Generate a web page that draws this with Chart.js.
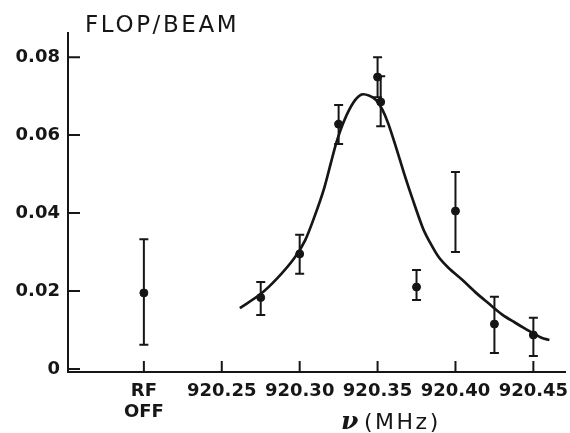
<!DOCTYPE html>
<html>
<head>
<meta charset="utf-8">
<script src="https://cdn.jsdelivr.net/npm/chart.js@4"></script>
<style>
html, body { margin: 0; padding: 0; background: #fff; }
</style>
</head>
<body>
<canvas id="stat" width="570" height="433"></canvas>
<script>
// measured points (RF OFF is placed at the 920.20 slot)
var freqs   = [920.20, 920.275, 920.30, 920.325, 920.35, 920.352, 920.375, 920.40, 920.425, 920.45];
var flop    = [0.0195, 0.0183, 0.0295, 0.0628, 0.0749, 0.0685, 0.0210, 0.0405, 0.0115, 0.0087];
var errLow  = [0.0062, 0.0138, 0.0244, 0.0577, 0.0697, 0.0623, 0.0177, 0.0300, 0.0041, 0.0033];
var errHigh = [0.0333, 0.0223, 0.0344, 0.0677, 0.0800, 0.0751, 0.0254, 0.0505, 0.0185, 0.0131];

// hand drawn curve through the resonance
var curveFreq = [920.2616, 920.2749, 920.2857, 920.2965, 920.3035, 920.3098, 920.3156, 920.3200, 920.3238,
                 920.3289, 920.3346, 920.3397, 920.3448, 920.3492, 920.3530, 920.3568, 920.3619, 920.3670,
                 920.3727, 920.3791, 920.3829, 920.3892, 920.3956, 920.4045, 920.4127, 920.4210, 920.4298,
                 920.4381, 920.4444, 920.4552, 920.4603];
var curveFlop = [0.0156, 0.0192, 0.0233, 0.0284, 0.0330, 0.0394, 0.0462, 0.0528, 0.0584,
                 0.0640, 0.0684, 0.0704, 0.0701, 0.0689, 0.0666, 0.0630, 0.0568, 0.0502,
                 0.0433, 0.0361, 0.0330, 0.0287, 0.0259, 0.0228, 0.0197, 0.0169, 0.0140,
                 0.0119, 0.0104, 0.0080, 0.0074];

var xTicks = [920.20, 920.25, 920.30, 920.35, 920.40, 920.45];
var xTickLabels = [['RF', 'OFF'], '920.25', '920.30', '920.35', '920.40', '920.45'];
var yTicks = [0, 0.02, 0.04, 0.06, 0.08];
var yTickLabels = ['0', '0.02', '0.04', '0.06', '0.08'];

var ink = '#161616';

var curve = [];
for (var i = 0; i < curveFreq.length; i++) curve.push({x: curveFreq[i], y: curveFlop[i]});
var pts = [];
for (var j = 0; j < freqs.length; j++) pts.push({x: freqs[j], y: flop[j]});

// error bars, drawn through the scales
const errorBars = {
  id: 'errorBars',
  afterDatasetsDraw(chart) {
    const ctx = chart.ctx, xs = chart.scales.x, ys = chart.scales.y;
    ctx.save();
    ctx.strokeStyle = ink;
    ctx.lineWidth = 2;
    for (var i = 0; i < freqs.length; i++) {
      var x = xs.getPixelForValue(freqs[i]);
      var y1 = ys.getPixelForValue(errLow[i]);
      var y2 = ys.getPixelForValue(errHigh[i]);
      ctx.beginPath();
      ctx.moveTo(x, y1); ctx.lineTo(x, y2);
      ctx.moveTo(x - 4.5, y1); ctx.lineTo(x + 4.5, y1);
      ctx.moveTo(x - 4.5, y2); ctx.lineTo(x + 4.5, y2);
      ctx.stroke();
    }
    ctx.restore();
  }
};

// inward tick marks + titles
const decor = {
  id: 'decor',
  afterDraw(chart) {
    const ctx = chart.ctx, xs = chart.scales.x, ys = chart.scales.y, a = chart.chartArea;
    ctx.save();
    ctx.strokeStyle = ink;
    ctx.lineWidth = 2;
    ctx.beginPath();
    yTicks.forEach(function(v) {
      var y = ys.getPixelForValue(v);
      ctx.moveTo(a.left, y); ctx.lineTo(a.left + 12, y);
    });
    xTicks.forEach(function(v) {
      var x = xs.getPixelForValue(v);
      ctx.moveTo(x, a.bottom); ctx.lineTo(x, a.bottom - 11);
    });
    ctx.stroke();

    ctx.fillStyle = ink;
    ctx.textBaseline = 'alphabetic';
    ctx.textAlign = 'left';
    ctx.font = '23px "DejaVu Sans"';
    ctx.letterSpacing = '2.6px';
    ctx.fillText('FLOP/BEAM', a.left + 17, 32);

    ctx.font = 'italic bold 25px "DejaVu Serif"';
    ctx.letterSpacing = '0px';
    ctx.fillText('\u03bd', 341, 429);
    ctx.font = '22px "DejaVu Sans"';
    ctx.letterSpacing = '2.5px';
    ctx.fillText('(MHz)', 364, 429);
    ctx.restore();
  }
};

const flop_chart = document.getElementById('stat').getContext('2d');

let chart1 = new Chart(flop_chart, {
  type: 'scatter',
  data: {
    datasets: [{
      type: 'line',
      label: 'curve',
      data: curve,
      borderColor: ink,
      borderWidth: 2.7,
      pointRadius: 0,
      fill: false,
      tension: 0.3,
      order: 2
    }, {
      label: 'Flop/Beam',
      data: pts,
      borderColor: ink,
      backgroundColor: ink,
      pointRadius: 4,
      pointHoverRadius: 4,
      order: 1
    }]
  },
  options: {
    responsive: false,
    animation: false,
    layout: { padding: { top: 33, left: 0, right: 0, bottom: 0 } },
    plugins: {
      legend: { display: false },
      tooltip: { enabled: false }
    },
    scales: {
      x: {
        type: 'linear',
        min: 920.1513,
        max: 920.4703,
        grid: { display: false },
        border: { display: true, color: ink, width: 2 },
        afterBuildTicks: function(s) { s.ticks = xTicks.map(function(v) { return {value: v}; }); },
        afterFit: function(s) { s.height = 61; },
        ticks: {
          color: ink,
          padding: 1,
          maxRotation: 0,
          autoSkip: false,
          font: { family: 'DejaVu Sans', size: 18, weight: 'bold', lineHeight: 1.15 },
          callback: function(v, idx) { return xTickLabels[idx]; }
        }
      },
      y: {
        min: -0.0008,
        max: 0.0862,
        grid: { display: false },
        border: { display: true, color: ink, width: 2 },
        afterBuildTicks: function(s) { s.ticks = yTicks.map(function(v) { return {value: v}; }); },
        afterFit: function(s) { s.width = 68; },
        ticks: {
          color: ink,
          padding: 0,
          font: { family: 'DejaVu Sans', size: 18, weight: 'bold' },
          callback: function(v, idx) { return yTickLabels[idx]; }
        }
      }
    }
  },
  plugins: [errorBars, decor]
});
</script>
</body>
</html>
